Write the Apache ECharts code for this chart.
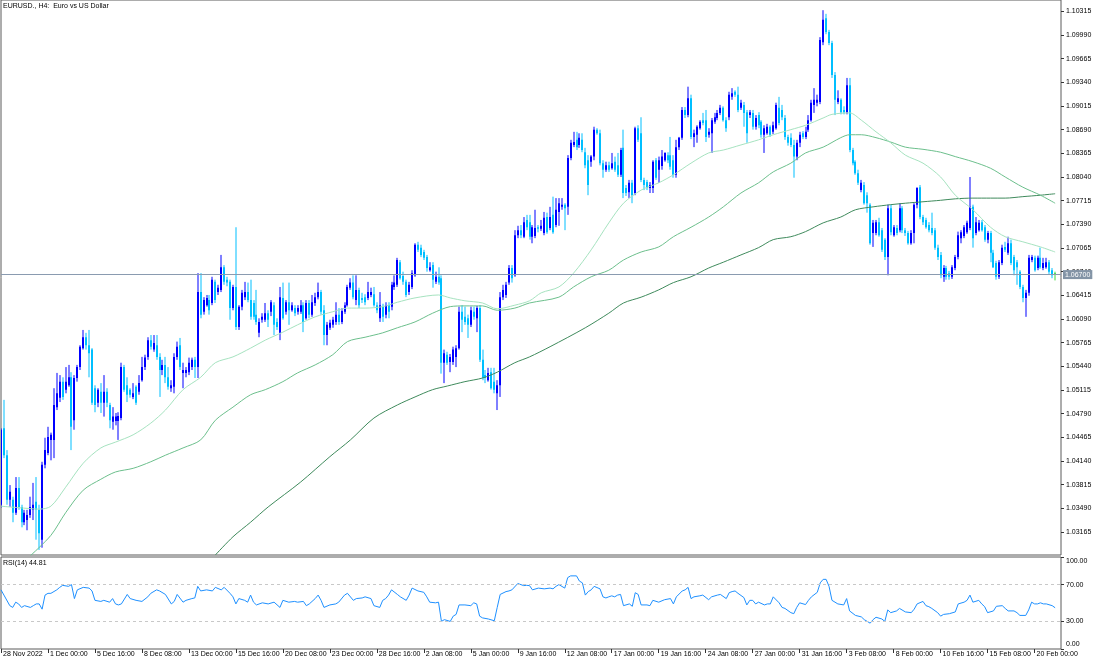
<!DOCTYPE html>
<html><head><meta charset="utf-8">
<script src="https://cdn.jsdelivr.net/npm/echarts@6/dist/echarts.min.js"></script>
<style>html,body{margin:0;padding:0;background:#fff}#c{width:1100px;height:660px}</style>
</head><body><div id="c"></div><script>
// ---- data (EURUSD H4, bars from 28 Nov 2022 08:00) ----
const opens = [
1.0354,1.0459,1.0422,1.0361,1.0361,1.0343,1.0377,1.0351,1.0330,1.0333,1.0340,1.0347,1.0358,1.0347,1.0306,1.0409,1.0425,1.0443,1.0443,1.0488,
1.0501,1.0523,1.0512,1.0518,1.0529,1.0470,1.0528,1.0543,1.0569,1.0584,1.0573,1.0567,1.0514,1.0494,1.0509,1.0494,1.0509,1.0491,1.0468,1.0469,
1.0469,1.0473,1.0543,1.0518,1.0512,1.0502,1.0516,1.0509,1.0525,1.0543,1.0557,1.0580,1.0567,1.0573,1.0557,1.0539,1.0546,1.0529,1.0514,1.0516,
1.0557,1.0573,1.0535,1.0535,1.0536,1.0543,1.0553,1.0543,1.0646,1.0619,1.0628,1.0635,1.0631,1.0660,1.0646,1.0649,1.0680,1.0663,1.0660,1.0624,
1.0653,1.0598,1.0626,1.0639,1.0646,1.0635,1.0631,1.0615,1.0590,1.0608,1.0608,1.0617,1.0619,1.0628,1.0605,1.0590,1.0638,1.0619,1.0632,1.0621,
1.0624,1.0619,1.0619,1.0628,1.0610,1.0631,1.0615,1.0631,1.0639,1.0646,1.0621,1.0587,1.0597,1.0601,1.0605,1.0615,1.0605,1.0619,1.0628,1.0652,
1.0659,1.0635,1.0649,1.0638,1.0639,1.0638,1.0642,1.0643,1.0628,1.0610,1.0626,1.0615,1.0628,1.0626,1.0653,1.0656,1.0687,1.0668,1.0660,1.0646,
1.0653,1.0669,1.0711,1.0707,1.0701,1.0694,1.0676,1.0683,1.0660,1.0667,1.0665,1.0549,1.0560,1.0550,1.0550,1.0557,1.0569,1.0619,1.0612,1.0610,
1.0601,1.0619,1.0610,1.0624,1.0553,1.0532,1.0525,1.0536,1.0523,1.0507,1.0518,1.0639,1.0642,1.0659,1.0679,1.0669,1.0724,1.0731,1.0722,1.0745,
1.0742,1.0722,1.0723,1.0735,1.0733,1.0727,1.0749,1.0734,1.0752,1.0738,1.0756,1.0763,1.0766,1.0763,1.0830,1.0848,1.0855,1.0848,1.0855,1.0838,
1.0827,1.0825,1.0832,1.0869,1.0864,1.0823,1.0814,1.0820,1.0816,1.0825,1.0820,1.0807,1.0844,1.0789,1.0783,1.0796,1.0782,1.0871,1.0864,1.0800,
1.0797,1.0789,1.0789,1.0827,1.0814,1.0819,1.0827,1.0834,1.0834,1.0827,1.0807,1.0845,1.0858,1.0896,1.0889,1.0912,1.0859,1.0862,1.0871,1.0882,
1.0882,1.0862,1.0864,1.0880,1.0885,1.0892,1.0899,1.0882,1.0886,1.0914,1.0921,1.0917,1.0899,1.0903,1.0893,1.0889,1.0892,1.0873,1.0889,1.0880,
1.0862,1.0864,1.0873,1.0866,1.0871,1.0899,1.0896,1.0885,1.0859,1.0858,1.0848,1.0832,1.0851,1.0864,1.0859,1.0869,1.0882,1.0903,1.0906,1.0907,
1.0989,1.1022,1.1003,1.0988,1.0944,1.0907,1.0910,1.0896,1.0893,1.0930,1.0841,1.0825,1.0809,1.0786,1.0793,1.0779,1.0766,1.0727,1.0727,1.0742,
1.0731,1.0718,1.0694,1.0761,1.0724,1.0734,1.0731,1.0761,1.0731,1.0727,1.0713,1.0727,1.0766,1.0790,1.0749,1.0745,1.0738,1.0734,1.0731,1.0707,
1.0697,1.0667,1.0679,1.0672,1.0667,1.0679,1.0694,1.0720,1.0723,1.0728,1.0734,1.0763,1.0727,1.0731,1.0742,1.0735,1.0718,1.0727,1.0700,1.0686,
1.0667,1.0686,1.0708,1.0700,1.0713,1.0694,1.0687,1.0674,1.0653,1.0638,1.0645,1.0690,1.0693,1.0679,1.0693,1.0679,1.0680,1.0687,1.0676,1.0672];
const closes = [
1.0457,1.0422,1.0361,1.0372,1.0343,1.0377,1.0351,1.0330,1.0343,1.0340,1.0351,1.0354,1.0347,1.0315,1.0409,1.0429,1.0447,1.0450,1.0491,1.0507,
1.0523,1.0502,1.0523,1.0529,1.0461,1.0528,1.0543,1.0571,1.0584,1.0573,1.0562,1.0494,1.0491,1.0512,1.0494,1.0509,1.0494,1.0470,1.0475,1.0475,
1.0476,1.0543,1.0512,1.0505,1.0505,1.0507,1.0494,1.0521,1.0543,1.0556,1.0580,1.0571,1.0576,1.0557,1.0539,1.0546,1.0529,1.0516,1.0518,1.0557,
1.0571,1.0543,1.0539,1.0539,1.0549,1.0553,1.0543,1.0646,1.0615,1.0635,1.0638,1.0621,1.0663,1.0635,1.0652,1.0680,1.0660,1.0659,1.0624,1.0653,
1.0598,1.0626,1.0645,1.0646,1.0635,1.0612,1.0612,1.0605,1.0605,1.0612,1.0617,1.0608,1.0632,1.0601,1.0598,1.0639,1.0610,1.0632,1.0621,1.0628,
1.0617,1.0624,1.0628,1.0605,1.0631,1.0615,1.0632,1.0639,1.0646,1.0619,1.0587,1.0601,1.0604,1.0608,1.0615,1.0605,1.0620,1.0628,1.0653,1.0659,
1.0639,1.0649,1.0628,1.0635,1.0632,1.0646,1.0646,1.0628,1.0621,1.0628,1.0612,1.0628,1.0619,1.0656,1.0659,1.0690,1.0665,1.0660,1.0642,1.0656,
1.0672,1.0711,1.0704,1.0697,1.0693,1.0679,1.0680,1.0663,1.0667,1.0659,1.0549,1.0562,1.0549,1.0557,1.0567,1.0569,1.0619,1.0608,1.0605,1.0601,
1.0621,1.0612,1.0624,1.0553,1.0528,1.0528,1.0535,1.0514,1.0512,1.0518,1.0639,1.0649,1.0656,1.0679,1.0665,1.0724,1.0731,1.0724,1.0742,1.0735,
1.0722,1.0735,1.0734,1.0733,1.0737,1.0748,1.0728,1.0749,1.0728,1.0759,1.0768,1.0766,1.0761,1.0830,1.0851,1.0852,1.0845,1.0858,1.0841,1.0820,
1.0793,1.0832,1.0869,1.0864,1.0823,1.0814,1.0820,1.0814,1.0823,1.0814,1.0807,1.0841,1.0782,1.0782,1.0796,1.0779,1.0871,1.0855,1.0800,1.0793,
1.0789,1.0793,1.0825,1.0803,1.0827,1.0832,1.0837,1.0827,1.0818,1.0807,1.0845,1.0858,1.0896,1.0889,1.0912,1.0859,1.0864,1.0873,1.0880,1.0878,
1.0859,1.0866,1.0882,1.0886,1.0892,1.0899,1.0882,1.0871,1.0917,1.0919,1.0917,1.0896,1.0906,1.0892,1.0864,1.0893,1.0873,1.0885,1.0875,1.0862,
1.0871,1.0873,1.0862,1.0875,1.0903,1.0878,1.0886,1.0859,1.0851,1.0848,1.0832,1.0851,1.0862,1.0859,1.0866,1.0882,1.0906,1.0910,1.0910,1.0992,
1.1020,1.1003,1.0988,1.0944,1.0910,1.0912,1.0893,1.0893,1.0930,1.0841,1.0823,1.0809,1.0796,1.0796,1.0768,1.0768,1.0713,1.0741,1.0742,1.0724,
1.0704,1.0694,1.0761,1.0728,1.0735,1.0727,1.0761,1.0731,1.0727,1.0713,1.0727,1.0766,1.0789,1.0749,1.0742,1.0735,1.0731,1.0727,1.0707,1.0694,
1.0669,1.0679,1.0667,1.0667,1.0680,1.0694,1.0724,1.0728,1.0735,1.0741,1.0763,1.0720,1.0742,1.0741,1.0731,1.0718,1.0727,1.0700,1.0680,1.0667,
1.0687,1.0707,1.0704,1.0713,1.0686,1.0676,1.0680,1.0653,1.0638,1.0645,1.0693,1.0694,1.0676,1.0693,1.0680,1.0686,1.0687,1.0674,1.0669,1.0670];
const lows = [
1.0350,1.0418,1.0354,1.0351,1.0330,1.0340,1.0347,1.0323,1.0326,1.0319,1.0336,1.0333,1.0306,1.0292,1.0295,1.0404,1.0422,1.0415,1.0418,1.0484,
1.0495,1.0498,1.0507,1.0516,1.0429,1.0457,1.0523,1.0539,1.0567,1.0567,1.0529,1.0491,1.0481,1.0488,1.0480,1.0475,1.0488,1.0459,1.0457,1.0463,
1.0443,1.0470,1.0509,1.0495,1.0501,1.0499,1.0491,1.0505,1.0523,1.0539,1.0553,1.0567,1.0564,1.0553,1.0502,1.0532,1.0521,1.0512,1.0509,1.0507,
1.0553,1.0539,1.0514,1.0529,1.0532,1.0539,1.0528,1.0528,1.0610,1.0615,1.0626,1.0615,1.0628,1.0631,1.0642,1.0646,1.0656,1.0654,1.0608,1.0621,
1.0594,1.0594,1.0621,1.0635,1.0632,1.0608,1.0608,1.0601,1.0584,1.0604,1.0605,1.0598,1.0613,1.0587,1.0594,1.0580,1.0608,1.0615,1.0601,1.0619,
1.0613,1.0615,1.0616,1.0591,1.0608,1.0610,1.0612,1.0627,1.0636,1.0615,1.0573,1.0573,1.0594,1.0597,1.0601,1.0601,1.0602,1.0616,1.0626,1.0649,
1.0636,1.0628,1.0624,1.0631,1.0628,1.0635,1.0639,1.0626,1.0617,1.0605,1.0605,1.0610,1.0610,1.0621,1.0649,1.0653,1.0663,1.0656,1.0639,1.0642,
1.0650,1.0667,1.0701,1.0694,1.0690,1.0674,1.0674,1.0652,1.0657,1.0656,1.0534,1.0521,1.0546,1.0536,1.0546,1.0543,1.0567,1.0591,1.0601,1.0583,
1.0598,1.0608,1.0591,1.0550,1.0525,1.0521,1.0523,1.0512,1.0507,1.0484,1.0502,1.0635,1.0638,1.0656,1.0659,1.0667,1.0720,1.0720,1.0720,1.0731,
1.0718,1.0713,1.0720,1.0728,1.0730,1.0724,1.0726,1.0731,1.0726,1.0735,1.0737,1.0759,1.0731,1.0752,1.0827,1.0845,1.0841,1.0844,1.0838,1.0816,
1.0779,1.0818,1.0827,1.0862,1.0820,1.0803,1.0811,1.0811,1.0814,1.0811,1.0804,1.0804,1.0775,1.0778,1.0775,1.0768,1.0779,1.0852,1.0797,1.0786,
1.0786,1.0782,1.0782,1.0800,1.0796,1.0814,1.0825,1.0823,1.0814,1.0803,1.0803,1.0841,1.0855,1.0885,1.0886,1.0856,1.0845,1.0851,1.0869,1.0875,
1.0852,1.0858,1.0837,1.0877,1.0882,1.0889,1.0880,1.0866,1.0882,1.0910,1.0914,1.0893,1.0896,1.0873,1.0851,1.0885,1.0869,1.0869,1.0871,1.0858,
1.0837,1.0862,1.0859,1.0863,1.0869,1.0875,1.0882,1.0855,1.0847,1.0845,1.0803,1.0827,1.0845,1.0856,1.0856,1.0866,1.0880,1.0892,1.0901,1.0904,
1.0985,1.1000,1.0985,1.0940,1.0889,1.0904,1.0890,1.0890,1.0890,1.0838,1.0820,1.0807,1.0793,1.0783,1.0766,1.0755,1.0711,1.0708,1.0724,1.0722,
1.0701,1.0690,1.0669,1.0724,1.0722,1.0724,1.0728,1.0727,1.0723,1.0711,1.0711,1.0713,1.0761,1.0746,1.0738,1.0733,1.0728,1.0724,1.0704,1.0690,
1.0665,1.0660,1.0663,1.0663,1.0664,1.0676,1.0691,1.0713,1.0720,1.0726,1.0731,1.0707,1.0724,1.0729,1.0729,1.0715,1.0713,1.0687,1.0679,1.0663,
1.0664,1.0683,1.0701,1.0697,1.0683,1.0669,1.0656,1.0650,1.0632,1.0612,1.0641,1.0687,1.0674,1.0676,1.0678,1.0676,1.0678,1.0671,1.0665,1.0662];
const highs = [
1.0459,1.0498,1.0429,1.0381,1.0365,1.0392,1.0392,1.0354,1.0347,1.0347,1.0365,1.0384,1.0392,1.0354,1.0413,1.0446,1.0461,1.0453,1.0514,1.0535,
1.0532,1.0529,1.0543,1.0546,1.0536,1.0532,1.0546,1.0573,1.0594,1.0590,1.0594,1.0569,1.0518,1.0514,1.0521,1.0532,1.0514,1.0494,1.0488,1.0480,
1.0481,1.0549,1.0546,1.0529,1.0514,1.0521,1.0518,1.0532,1.0557,1.0560,1.0584,1.0587,1.0587,1.0587,1.0562,1.0553,1.0557,1.0543,1.0525,1.0562,
1.0578,1.0583,1.0549,1.0543,1.0556,1.0556,1.0557,1.0672,1.0672,1.0639,1.0642,1.0642,1.0667,1.0663,1.0656,1.0697,1.0683,1.0667,1.0663,1.0656,
1.0735,1.0628,1.0649,1.0660,1.0659,1.0663,1.0635,1.0649,1.0610,1.0617,1.0631,1.0621,1.0635,1.0632,1.0610,1.0653,1.0659,1.0635,1.0659,1.0632,
1.0628,1.0628,1.0635,1.0632,1.0635,1.0635,1.0642,1.0645,1.0659,1.0649,1.0628,1.0605,1.0608,1.0612,1.0632,1.0624,1.0624,1.0632,1.0656,1.0665,
1.0669,1.0669,1.0652,1.0645,1.0643,1.0660,1.0652,1.0653,1.0632,1.0646,1.0630,1.0632,1.0632,1.0660,1.0669,1.0693,1.0690,1.0674,1.0663,1.0660,
1.0676,1.0713,1.0715,1.0711,1.0704,1.0697,1.0687,1.0687,1.0674,1.0680,1.0669,1.0567,1.0564,1.0561,1.0571,1.0573,1.0626,1.0628,1.0626,1.0615,
1.0626,1.0626,1.0627,1.0628,1.0567,1.0539,1.0542,1.0542,1.0542,1.0525,1.0646,1.0656,1.0660,1.0683,1.0683,1.0731,1.0737,1.0738,1.0749,1.0752,
1.0752,1.0738,1.0759,1.0738,1.0745,1.0756,1.0755,1.0763,1.0777,1.0775,1.0775,1.0775,1.0768,1.0834,1.0855,1.0866,1.0866,1.0864,1.0864,1.0844,
1.0834,1.0834,1.0873,1.0871,1.0869,1.0827,1.0825,1.0825,1.0837,1.0832,1.0837,1.0844,1.0869,1.0793,1.0800,1.0800,1.0873,1.0875,1.0886,1.0803,
1.0800,1.0797,1.0827,1.0830,1.0832,1.0841,1.0838,1.0838,1.0859,1.0834,1.0855,1.0859,1.0900,1.0900,1.0928,1.0917,1.0869,1.0875,1.0882,1.0892,
1.0896,1.0871,1.0885,1.0892,1.0896,1.0903,1.0901,1.0886,1.0921,1.0926,1.0923,1.0928,1.0910,1.0907,1.0896,1.0896,1.0896,1.0889,1.0893,1.0882,
1.0875,1.0877,1.0875,1.0880,1.0906,1.0914,1.0903,1.0889,1.0862,1.0864,1.0855,1.0855,1.0866,1.0867,1.0873,1.0889,1.0910,1.0926,1.0917,1.0996,
1.1033,1.1028,1.1006,1.0991,1.0948,1.0923,1.0912,1.0901,1.0940,1.0940,1.0844,1.0827,1.0814,1.0800,1.0797,1.0783,1.0768,1.0745,1.0745,1.0748,
1.0734,1.0720,1.0766,1.0766,1.0738,1.0738,1.0768,1.0764,1.0734,1.0730,1.0731,1.0768,1.0790,1.0793,1.0752,1.0748,1.0742,1.0755,1.0734,1.0711,
1.0701,1.0683,1.0682,1.0675,1.0683,1.0697,1.0729,1.0731,1.0738,1.0744,1.0804,1.0766,1.0749,1.0745,1.0745,1.0738,1.0730,1.0730,1.0704,1.0689,
1.0690,1.0711,1.0715,1.0722,1.0718,1.0697,1.0690,1.0676,1.0656,1.0649,1.0697,1.0697,1.0696,1.0696,1.0707,1.0693,1.0693,1.0690,1.0679,1.0674];

// moving averages: [bar index, value]
const maFast = [[0,1.0352],[6,1.0350],[13,1.0348],[17,1.0352],[22,1.0378],[28,1.0411],[34,1.0432],[39,1.0440],[45,1.0450],[51,1.0466],[56,1.0484],[62,1.0512],[68,1.0529],[73,1.0549],[79,1.0557],[85,1.0569],[90,1.0580],[96,1.0591],[101,1.0601],[107,1.0612],[113,1.0619],[118,1.0624],[124,1.0624],[130,1.0626],[135,1.0632],[141,1.0638],[149,1.0642],[153,1.0638],[158,1.0634],[164,1.0631],[169,1.0623],[175,1.0628],[180,1.0634],[184,1.0645],[190,1.0653],[195,1.0672],[201,1.0704],[207,1.0741],[212,1.0768],[218,1.0786],[224,1.0796],[229,1.0807],[235,1.0823],[241,1.0837],[246,1.0841],[252,1.0848],[258,1.0855],[263,1.0862],[269,1.0869],[274,1.0875],[280,1.0885],[283,1.0890],[289,1.0892],[293,1.0882],[298,1.0866],[303,1.0851],[308,1.0834],[314,1.0823],[320,1.0804],[325,1.0779],[331,1.0759],[337,1.0735],[342,1.0722],[348,1.0715],[354,1.0708],[359,1.0701]];
const maMid = [[10,1.0284],[17,1.0312],[22,1.0343],[28,1.0374],[34,1.0389],[39,1.0399],[45,1.0404],[51,1.0413],[56,1.0422],[62,1.0432],[68,1.0443],[73,1.0470],[79,1.0488],[85,1.0505],[90,1.0512],[96,1.0523],[101,1.0535],[107,1.0546],[113,1.0560],[118,1.0578],[124,1.0584],[130,1.0590],[135,1.0597],[141,1.0605],[147,1.0617],[153,1.0626],[158,1.0627],[164,1.0627],[169,1.0621],[175,1.0624],[180,1.0631],[190,1.0639],[195,1.0653],[201,1.0667],[207,1.0676],[212,1.0690],[218,1.0701],[224,1.0708],[229,1.0722],[235,1.0735],[241,1.0749],[246,1.0763],[252,1.0782],[258,1.0796],[263,1.0811],[269,1.0823],[274,1.0837],[280,1.0845],[286,1.0858],[289,1.0862],[293,1.0862],[298,1.0858],[303,1.0852],[308,1.0845],[314,1.0842],[320,1.0838],[325,1.0832],[331,1.0825],[337,1.0816],[342,1.0804],[348,1.0790],[354,1.0779],[359,1.0768]];
const maSlow = [[73,1.0285],[79,1.0310],[85,1.0330],[91,1.0351],[102,1.0385],[112,1.0420],[119,1.0443],[127,1.0473],[135,1.0491],[141,1.0502],[147,1.0512],[152,1.0517],[158,1.0523],[164,1.0528],[169,1.0536],[175,1.0549],[180,1.0557],[187,1.0571],[199,1.0597],[207,1.0617],[212,1.0631],[218,1.0639],[224,1.0649],[229,1.0659],[235,1.0667],[241,1.0679],[246,1.0687],[252,1.0697],[258,1.0707],[263,1.0718],[269,1.0722],[274,1.0729],[280,1.0741],[286,1.0749],[291,1.0759],[297,1.0763],[303,1.0766],[308,1.0768],[314,1.0770],[320,1.0772],[325,1.0774],[331,1.0775],[337,1.0775],[342,1.0775],[348,1.0777],[354,1.0779],[359,1.0781]];

// RSI(14): [bar index, value]
const rsi = [[0,64.3],[1,58.6],[3,47.1],[4,45.2],[5,50.9],[6,49.0],[7,45.2],[8,47.1],[10,45.2],[11,47.1],[12,49.0],[13,49.0],[14,43.3],[15,58.6],[16,60.5],[17,60.5],[19,64.3],[20,67.0],[21,69.2],[23,68.1],[24,70.0],[25,54.8],[26,64.3],[28,67.0],[30,66.2],[31,63.1],[32,52.9],[34,51.7],[35,52.9],[37,50.9],[38,54.8],[39,49.0],[40,47.9],[41,49.0],[43,59.3],[44,54.8],[46,52.9],[48,51.7],[50,56.7],[51,60.5],[53,64.3],[54,63.1],[56,59.3],[58,49.0],[59,51.7],[60,59.3],[62,50.9],[63,52.9],[65,54.8],[66,55.5],[67,68.1],[68,63.1],[70,64.3],[72,63.1],[73,67.0],[75,64.3],[76,67.0],[78,60.5],[79,56.7],[80,49.0],[81,54.8],[83,52.9],[84,50.9],[85,58.6],[86,50.9],[87,47.9],[89,50.2],[91,49.0],[93,50.9],[95,45.2],[96,52.9],[98,50.9],[100,51.7],[101,50.9],[103,51.7],[104,47.1],[105,49.0],[107,54.8],[108,58.6],[109,52.9],[110,45.2],[112,47.9],[114,49.0],[115,50.9],[117,58.6],[118,60.5],[120,52.9],[121,54.8],[123,55.5],[124,56.7],[126,54.8],[127,47.1],[129,45.2],[130,52.9],[131,54.8],[132,58.6],[133,64.3],[135,59.3],[136,56.7],[138,52.9],[139,58.6],[140,66.2],[142,63.1],[144,61.6],[145,56.7],[146,50.9],[148,50.2],[149,50.9],[150,30.0],[151,31.9],[153,30.0],[154,35.7],[155,37.6],[156,47.9],[158,47.9],[160,47.1],[161,50.2],[162,49.0],[163,35.7],[164,33.8],[166,32.6],[168,30.7],[169,45.2],[170,59.3],[172,62.4],[173,63.1],[174,64.3],[176,71.2],[178,68.9],[179,69.2],[180,68.9],[181,64.3],[183,66.2],[185,65.4],[187,66.2],[188,65.4],[189,68.1],[190,70.0],[192,66.2],[193,77.6],[194,79.5],[196,79.5],[197,73.8],[198,71.9],[199,58.6],[200,62.4],[201,64.3],[202,68.1],[204,65.4],[205,56.7],[206,55.5],[207,56.7],[208,57.8],[209,56.7],[210,58.6],[211,59.3],[212,47.1],[214,49.0],[215,46.4],[216,61.2],[217,59.3],[218,47.9],[220,47.9],[221,47.1],[222,52.9],[224,50.9],[226,53.6],[228,54.8],[229,49.0],[230,56.7],[232,63.1],[233,64.3],[234,67.0],[235,54.8],[236,56.7],[238,57.8],[239,58.6],[241,53.6],[242,56.7],[244,58.6],[245,59.3],[247,54.8],[248,61.2],[249,62.4],[250,63.1],[251,60.5],[253,55.9],[254,47.9],[255,52.9],[256,52.9],[257,49.0],[258,50.9],[260,47.9],[261,49.0],[262,49.0],[263,56.7],[265,50.2],[266,45.2],[267,44.1],[269,39.5],[270,38.4],[271,45.2],[272,50.2],[274,48.3],[275,52.9],[276,56.7],[278,61.6],[279,71.9],[280,75.7],[281,75.7],[282,68.1],[283,52.9],[285,49.0],[287,47.9],[288,54.8],[289,41.4],[291,36.5],[293,34.9],[294,31.9],[296,28.1],[297,31.9],[298,34.5],[300,32.6],[301,30.0],[302,42.5],[303,39.5],[305,41.4],[306,44.1],[308,40.3],[310,39.5],[311,43.3],[312,49.0],[314,51.7],[315,47.1],[316,46.0],[317,44.1],[319,39.5],[320,35.7],[321,37.6],[323,38.4],[325,40.3],[326,49.0],[328,50.9],[329,52.9],[330,58.6],[331,50.9],[333,52.9],[334,49.0],[335,46.0],[336,39.5],[338,41.4],[339,46.4],[341,47.1],[342,44.1],[343,41.4],[345,41.4],[346,39.5],[347,36.5],[349,36.5],[350,42.5],[351,50.9],[352,49.0],[353,49.0],[354,50.2],[355,49.0],[356,49.0],[358,47.1],[359,44.81]];

// tick labels
const xTickLabels = ['28 Nov 2022','1 Dec 00:00','5 Dec 16:00','8 Dec 08:00','13 Dec 00:00','15 Dec 16:00','20 Dec 08:00','23 Dec 00:00','28 Dec 16:00','2 Jan 08:00','5 Jan 00:00','9 Jan 16:00','12 Jan 08:00','17 Jan 00:00','19 Jan 16:00','24 Jan 08:00','27 Jan 00:00','31 Jan 16:00','3 Feb 08:00','8 Feb 00:00','10 Feb 16:00','15 Feb 08:00','20 Feb 00:00'];
const xTickStep = 16;
const yTicks = [1.03165,1.03490,1.03815,1.04140,1.04465,1.04790,1.05115,1.05440,1.05765,1.06090,1.06415,1.06740,1.07065,1.07390,1.07715,1.08040,1.08365,1.08690,1.09015,1.09340,1.09665,1.09990,1.10315];
const rsiTicks = [100, 70, 30, 0];
const rsiLevels = [70, 30];
const priceMin = 1.0285, priceMax = 1.1047;

// ---- chart ----
const nBars = opens.length;
const categories = Array.from({length: nBars + 2}, (_, i) => String(i));
const candleData = opens.map((o, i) => [i, o, closes[i], lows[i], highs[i]]);
const lastPrice = closes[nBars - 1];
const FONT = "'Liberation Sans', Arial, sans-serif";

function renderCandle(params, api) {
  const i = api.value(0);
  const o = api.coord([i, api.value(1)]);
  const c = api.coord([i, api.value(2)]);
  const l = api.coord([i, api.value(3)]);
  const h = api.coord([i, api.value(4)]);
  const bull = api.value(2) >= api.value(1);
  const last = i === nBars - 1;
  const col = last ? '#3cdc3c' : (bull ? '#0000ff' : '#00bfff');
  const bx = Math.round(o[0]) - 1;
  const top = Math.min(o[1], c[1]);
  const hgt = Math.max(1, Math.abs(o[1] - c[1]));
  return {
    type: 'group',
    children: [
      { type: 'line', shape: { x1: bx + 1, y1: h[1], x2: bx + 1, y2: l[1] }, style: { stroke: col, lineWidth: 1 } },
      { type: 'rect', shape: { x: bx, y: top, width: 2, height: hgt }, style: { fill: col } }
    ]
  };
}

const xLabelShow = (idx) => idx % xTickStep === 0 && idx / xTickStep < xTickLabels.length;
const rsiLabel = (v) => v === 100 ? '{top|100.00}' : (v === 0 ? '{bot|0.00}' : v.toFixed(2));

const chart = echarts.init(document.getElementById('c'), null, { renderer: 'canvas' });
chart.setOption({
  animation: false,
  backgroundColor: '#ffffff',
  title: [
    { text: 'EURUSD., H4:  Euro vs US Dollar', left: 3, top: 3, padding: 0,
      textStyle: { fontSize: 7, fontWeight: 'normal', color: '#000', fontFamily: FONT } },
    { text: 'RSI(14) ' + rsi[rsi.length - 1][1].toFixed(2), left: 3, top: 560, padding: 0,
      textStyle: { fontSize: 7, fontWeight: 'normal', color: '#000', fontFamily: FONT } }
  ],
  grid: [
    { left: 1, top: 0, width: 1060, height: 555, show: true, borderColor: '#5a5a5a', borderWidth: 1, backgroundColor: '#fff' },
    { left: 1, top: 557, width: 1060, height: 92, show: true, borderColor: '#5a5a5a', borderWidth: 1, backgroundColor: '#fff' }
  ],
  xAxis: [
    { type: 'category', gridIndex: 0, data: categories, boundaryGap: false,
      axisLine: { show: false }, axisTick: { show: false }, axisLabel: { show: false }, splitLine: { show: false } },
    { type: 'category', gridIndex: 1, data: categories, boundaryGap: false,
      axisLine: { show: false },
      axisTick: { show: true, interval: (idx) => xLabelShow(idx), length: 4, lineStyle: { color: '#333' } },
      axisLabel: { interval: (idx) => xLabelShow(idx),
        formatter: (v, idx) => xLabelShow(idx) ? xTickLabels[idx / xTickStep] : '',
        align: 'left', fontSize: 7, color: '#000', fontFamily: FONT, margin: 2, padding: [0, 0, 0, 2] },
      splitLine: { show: false } }
  ],
  yAxis: [
    { type: 'value', gridIndex: 0, position: 'right', min: priceMin, max: priceMax,
      splitLine: { show: false }, axisLine: { show: false },
      axisTick: { show: true, customValues: yTicks, length: 3, lineStyle: { color: '#333' } },
      axisLabel: { customValues: yTicks, formatter: (v) => v.toFixed(5), fontSize: 7, margin: 5, color: '#000', fontFamily: FONT } },
    { type: 'value', gridIndex: 1, position: 'right', min: 0, max: 100,
      splitLine: { show: false }, axisLine: { show: false },
      axisTick: { show: true, customValues: rsiTicks, length: 3, lineStyle: { color: '#333' } },
      axisLabel: { customValues: rsiTicks, formatter: rsiLabel, fontSize: 7, margin: 5, color: '#000', fontFamily: FONT,
        rich: {
          top: { fontSize: 7, color: '#000', fontFamily: FONT, padding: [9, 0, 0, 0] },
          bot: { fontSize: 7, color: '#000', fontFamily: FONT, padding: [0, 0, 9, 0] }
        } } }
  ],
  series: [
    { type: 'custom', name: 'EURUSD', xAxisIndex: 0, yAxisIndex: 0, renderItem: renderCandle,
      data: candleData, encode: { x: 0, y: [1, 2, 3, 4] }, clip: true, z: 2 },
    { type: 'line', name: 'MA slow', xAxisIndex: 0, yAxisIndex: 0, data: maSlow, showSymbol: false, smooth: 0.3,
      lineStyle: { color: '#3f8a5c', width: 1 }, z: 3,
      markLine: { silent: true, symbol: ['none', 'none'], animation: false, precision: 5,
        lineStyle: { color: '#8a9bb0', width: 1, type: 'solid' },
        label: { show: true, position: 'end', distance: 2, formatter: () => lastPrice.toFixed(5),
          backgroundColor: '#8394a6', color: '#fff', fontSize: 7, fontFamily: FONT, padding: [1, 2] },
        data: [{ yAxis: lastPrice }] } },
    { type: 'line', name: 'MA mid', xAxisIndex: 0, yAxisIndex: 0, data: maMid, showSymbol: false, smooth: 0.3,
      lineStyle: { color: '#6cbf8c', width: 1 }, z: 3 },
    { type: 'line', name: 'MA fast', xAxisIndex: 0, yAxisIndex: 0, data: maFast, showSymbol: false, smooth: 0.3,
      lineStyle: { color: '#a6e3c0', width: 1 }, z: 3 },
    { type: 'line', name: 'RSI', xAxisIndex: 1, yAxisIndex: 1, data: rsi, showSymbol: false,
      lineStyle: { color: '#1e90ff', width: 1 },
      markLine: { silent: true, symbol: ['none', 'none'], animation: false, label: { show: false },
        lineStyle: { color: '#c8c8c8', width: 1, type: [3, 3] },
        data: rsiLevels.map(v => ({ yAxis: v })) } }
  ]
});
</script></body></html>
